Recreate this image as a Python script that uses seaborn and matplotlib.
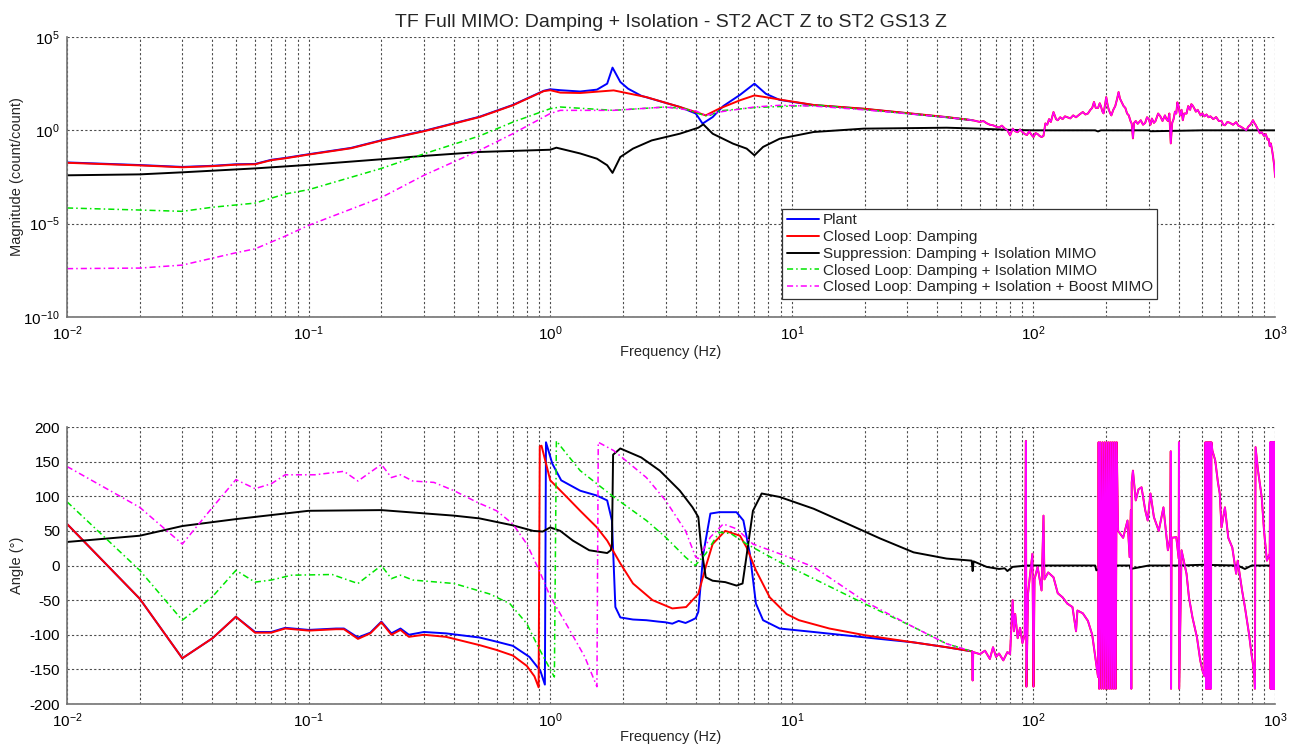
import numpy as np
import matplotlib
matplotlib.use("Agg")
import matplotlib.pyplot as plt
import seaborn as sns
from matplotlib.ticker import LogLocator, FixedLocator, NullFormatter, LogFormatterSciNotation

# ---------------------------------------------------------------- magnitude (log10 of count/count)
plant_mag_f = [0.01, 0.02, 0.03, 0.04, 0.05, 0.06, 0.07, 0.08, 0.1, 0.15, 0.2, 0.3, 0.51, 0.7, 0.94,
               1.0, 1.1, 1.33, 1.56, 1.72, 1.81, 1.95, 2.1, 2.38, 3.44, 4.0, 4.15, 4.27, 4.7, 5.2,
               6.1, 7.0, 7.8, 8.9, 12.3, 19.8, 43.7, 56]
plant_mag = [-1.72, -1.86, -1.96, -1.9, -1.82, -1.8, -1.58, -1.48, -1.28, -0.94, -0.53, -0.03, 0.73,
             1.36, 2.12, 2.2, 2.15, 2.08, 2.18, 2.5, 3.36, 2.59, 2.23, 1.85, 1.25, 0.9, 0.6, 0.36,
             0.71, 1.3, 1.9, 2.5, 1.96, 1.63, 1.35, 1.15, 0.7, 0.54]

damp_mag_f = [0.01, 0.02, 0.03, 0.04, 0.05, 0.06, 0.07, 0.08, 0.1, 0.15, 0.2, 0.3, 0.51, 0.7, 0.94,
              1.0, 1.1, 1.33, 1.83, 2.5, 3.44, 4.0, 4.4, 5.0, 6.1, 7.0, 7.6, 8.9, 12.3, 19.8, 43.7]
damp_mag = [-1.74, -1.88, -1.98, -1.92, -1.84, -1.82, -1.6, -1.5, -1.3, -0.96, -0.55, -0.05, 0.71,
            1.34, 2.1, 2.15, 2.02, 2.0, 2.14, 1.78, 1.25, 0.98, 0.8, 1.16, 1.61, 1.87, 1.8, 1.65,
            1.36, 1.16, 0.71]

supp_mag_f = [0.01, 0.02, 0.03, 0.06, 0.1, 0.2, 0.3, 0.51, 1.0, 1.06, 1.33, 1.56, 1.72, 1.81, 1.95,
              2.2, 2.63, 3.44, 4.1, 4.3, 4.7, 5.7, 6.5, 7.0, 7.6, 8.9, 12.3, 19.8, 43.7, 60, 80,
              100, 180, 185, 190, 300, 305, 500, 700, 1000]
supp_mag = [-2.41, -2.36, -2.25, -2.04, -1.85, -1.55, -1.37, -1.16, -1.04, -0.93, -1.24, -1.52,
            -1.87, -2.28, -1.43, -0.98, -0.54, -0.18, 0.14, 0.32, -0.18, -0.71, -0.98, -1.34, -0.89,
            -0.45, -0.09, 0.09, 0.14, 0.09, 0.02, 0.0, 0.0, -0.06, 0.0, 0.0, -0.05, 0.0, 0.0, 0.0]

iso_mag_f = [0.01, 0.02, 0.03, 0.04, 0.06, 0.08, 0.1, 0.2, 0.3, 0.51, 0.7, 1.0, 1.1, 1.83, 3.0, 3.6,
             4.1, 4.5, 5.0, 7.0, 10, 13, 19.8, 43.7, 56]
iso_mag = [-4.16, -4.27, -4.34, -4.12, -3.9, -3.41, -3.18, -2.04, -1.26, -0.3, 0.44, 1.16, 1.25,
           1.07, 1.25, 1.16, 0.9, 0.75, 1.04, 1.22, 1.3, 1.34, 1.12, 0.7, 0.54]

boost_mag_f = [0.01, 0.02, 0.03, 0.05, 0.06, 0.08, 0.1, 0.2, 0.3, 0.51, 0.7, 1.0, 1.1, 1.83, 3.0,
               4.0, 4.4, 5.0, 7.0, 8.9, 12.3, 19.8, 43.7, 56]
boost_mag = [-7.41, -7.38, -7.22, -6.56, -6.35, -5.67, -5.09, -3.6, -2.41, -1.07, -0.18, 0.9, 1.07,
             1.07, 1.25, 1.04, 0.8, 0.98, 1.25, 1.34, 1.3, 1.1, 0.7, 0.54]

# measured (noisy) band shared by the closed-loop curves above ~56 Hz
hf_mag_f = [56, 60, 62, 64, 66, 68, 70, 72, 74, 76,
            78, 80, 82, 84, 86, 88, 90, 92, 94, 96,
            97, 99, 100, 102, 104, 106, 108, 110, 112, 114,
            116, 118, 121, 124, 126, 129, 132, 135, 138, 142,
            146, 150, 155, 160, 164, 168, 172, 175, 178, 181,
            185, 188, 190, 193, 195, 198, 200, 203, 205, 208,
            210, 214, 218, 222, 225, 228, 232, 236, 240, 244,
            248, 252, 255, 258, 261, 265, 270, 278, 284, 290,
            295, 300, 305, 309, 315, 320, 328, 335, 342, 350,
            355, 360, 365, 370, 375, 380, 385, 390, 394, 398,
            402, 405, 410, 415, 420, 430, 437, 445, 450, 455,
            462, 470, 478, 485, 492, 500, 510, 520, 530, 540,
            555, 570, 585, 600, 610, 620, 635, 650, 670, 690,
            705, 720, 740, 760, 775, 790, 810, 820, 830, 845,
            865, 880, 900, 915, 930, 940, 950, 960, 970, 978,
            985, 992, 1000]
hf_mag = [0.54, 0.45, 0.5, 0.38, 0.3, 0.27, 0.2, 0.15, 0.25, 0.1,
          0.0, -0.27, 0.09, -0.05, -0.1, 0.05, -0.09, -0.2, -0.25, -0.05,
          -0.15, -0.3, -0.36, -0.15, -0.2, -0.3, -0.36, -0.3, 0.37, 0.3,
          0.6, 0.45, 0.98, 0.6, 0.54, 0.7, 0.6, 0.75, 0.7, 0.64,
          0.8, 0.7, 0.85, 0.98, 0.85, 0.9, 1.1, 1.2, 1.52, 1.2,
          1.2, 1.45, 1.3, 1.0, 0.91, 1.4, 1.78, 1.3, 1.1, 0.9,
          0.8, 1.1, 1.3, 1.7, 2.05, 1.7, 1.5, 1.3, 1.2, 0.9,
          0.8, 0.5, 0.36, -0.43, 0.4, 0.5, 0.35, 0.54, 0.3, 0.4,
          0.7, 0.6, 0.3, 0.63, 0.4, 0.5, 0.9, 0.75, 0.5, 0.8,
          0.6, 0.5, 0.9, -0.7, 0.4, 0.6, 1.0, 0.9, 1.5, 1.34,
          1.0, 0.8, 1.1, 0.54, 0.9, 0.9, 1.3, 1.1, 1.4, 1.34,
          1.2, 1.0, 1.1, 0.95, 0.8, 0.91, 0.75, 0.85, 0.7, 0.75,
          0.6, 0.71, 0.5, 0.5, 0.3, 0.27, 0.45, 0.4, 0.3, 0.44,
          0.25, 0.2, 0.1, 0.0, 0.2, 0.3, 0.54, 0.4, 0.3, 0.1,
          -0.16, -0.1, -0.3, -0.2, -0.5, -0.45, -0.85, -0.7, -1.0, -1.3,
          -1.6, -1.9, -2.5]

# ---------------------------------------------------------------- phase (degrees)
plant_ph_f = [0.01, 0.02, 0.03, 0.04, 0.05, 0.06, 0.07, 0.08, 0.1, 0.13, 0.14, 0.16, 0.18, 0.2,
              0.22, 0.24, 0.26, 0.3, 0.37, 0.51, 0.6, 0.7, 0.82, 0.91, 0.95, 0.96, 1.02, 1.11,
              1.33, 1.56, 1.72, 1.8, 1.86, 1.95, 2.2, 2.5, 2.8, 3.0, 3.2, 3.4, 3.63, 3.85, 4.0,
              4.1, 4.3, 4.6, 5.0, 5.9, 6.3, 6.7, 7.1, 7.6, 8.9, 12.3, 20.3, 31.9, 43.7, 55.7]
plant_ph = [60, -48, -134, -105, -74, -96, -96, -90, -93, -91, -91, -104, -97, -81, -98, -91, -100,
            -96, -98, -104, -110, -116, -132, -152, -172, 178, 147, 123, 108, 101, 94, 65, -60,
            -75, -78, -79, -81, -82, -84, -80, -83, -79, -76, -67, 17, 75, 77, 77, 65, 17, -55,
            -79, -91, -96, -104, -111, -118, -124]

damp_ph_f = [0.01, 0.02, 0.03, 0.04, 0.05, 0.06, 0.07, 0.08, 0.1, 0.13, 0.14, 0.16, 0.18, 0.2,
             0.22, 0.24, 0.26, 0.3, 0.37, 0.51, 0.6, 0.7, 0.8, 0.86, 0.895, 0.905, 0.92, 1.0,
             1.17, 1.33, 1.56, 1.72, 1.95, 2.2, 2.65, 3.2, 3.65, 4.1, 4.4, 4.7, 5.3, 6.1, 6.5,
             7.1, 8.1, 9.5, 10.7, 14.3, 20.3, 31.9, 43.7]
damp_ph = [60, -48, -134, -105, -74, -97, -97, -91, -94, -92, -92, -106, -98, -82, -100, -93, -103,
           -100, -103, -115, -122, -130, -145, -160, -176, 172, 173, 123, 99, 79, 55, 36, 3, -26,
           -50, -62, -60, -41, -2, 31, 50, 43, 26, -7, -46, -70, -79, -91, -101, -111, -118]

supp_ph_f = [0.01, 0.02, 0.03, 0.05, 0.1, 0.2, 0.4, 0.51, 0.7, 0.85, 0.93, 1.0, 1.1, 1.24, 1.45,
             1.72, 1.78, 1.8, 1.82, 1.95, 2.38, 2.84, 3.44, 3.88, 4.1, 4.2, 4.4, 4.7, 5.3, 5.9,
             6.25, 6.45, 6.9, 7.5, 8.9, 12.3, 16.8, 23.2, 31.9, 43.7, 55.5, 56, 56.5, 64, 72, 76,
             78, 82, 94, 120, 150, 180, 182, 200, 250, 252, 300, 400, 500, 700, 750, 800, 1000]
supp_ph = [34, 43, 57, 67, 79, 80, 72, 68, 58, 50, 49, 55, 50, 36, 22, 18, 22, 30, 160, 169, 156,
           137, 108, 84, 70, 31, -17, -22, -24, -29, -26, 7, 79, 104, 99, 82, 61, 39, 19, 10, 7,
           -8, 6, -2, -5, -4, -8, -2, 0, 0, 0, 0, -7, 0, 0, -5, 0, 0, 1, 0, -5, 0, 0]

iso_ph_f = [0.01, 0.02, 0.03, 0.04, 0.05, 0.06, 0.07, 0.085, 0.125, 0.16, 0.2, 0.22, 0.24, 0.27,
            0.4, 0.56, 0.68, 0.8, 0.89, 1.0, 1.04, 1.06, 1.17, 1.33, 1.83, 2.5, 3.0, 3.63, 3.98,
            4.4, 5.0, 5.6, 6.5, 8.9, 12.3, 19.4, 31.9, 43.7, 55.7]
iso_ph = [92, -7, -79, -45, -7, -24, -21, -14, -13, -26, 0, -19, -14, -21, -26, -41, -55, -84,
          -117, -150, -161, 180, 161, 137, 99, 65, 41, 12, 0, 17, 48, 46, 31, 5, -19, -53, -89,
          -113, -124]

boost_ph_f = [0.01, 0.02, 0.03, 0.04, 0.05, 0.06, 0.07, 0.08, 0.106, 0.14, 0.16, 0.2, 0.22, 0.24,
              0.27, 0.33, 0.4, 0.5, 0.6, 0.7, 0.8, 0.9, 1.0, 1.18, 1.39, 1.56, 1.58, 1.83, 2.5,
              3.0, 3.63, 4.0, 4.1, 4.6, 5.2, 5.9, 6.9, 8.9, 12.3, 20.3, 31.9, 43.7, 55.7]
boost_ph = [143, 84, 31, 84, 124, 111, 118, 131, 131, 136, 122, 146, 127, 131, 122, 120, 108, 91,
            79, 60, 31, -7, -45, -88, -132, -175, 178, 166, 127, 94, 50, 12, 10, 41, 60, 53, 31,
            17, -2, -53, -89, -113, -124]

hf_ph_f = [55.7, 56.0, 56.3, 60, 63, 66, 68, 70, 72, 75, 78, 80, 82, 83, 84, 86, 88, 90, 92, 93,
           93.5, 95, 97, 99, 100, 101, 104, 108, 110, 111, 115, 121, 126, 132, 138, 145, 150, 152,
           160, 168, 175, 181, 185,
           186, 187, 189, 191, 193, 195, 197, 199, 201, 203, 205, 207, 209, 211, 213, 215, 217,
           219, 221,
           224, 235, 245, 250, 253, 254, 255, 258, 265, 272, 280, 290, 297, 305, 315, 330, 345,
           360, 368, 370, 371, 373, 390, 399, 400, 401, 410, 430, 440, 455, 475, 490, 500, 510,
           515, 518, 521, 524, 527, 530, 533, 536, 539, 542, 545,
           550, 565, 580, 590, 600, 620, 640, 665, 690, 700, 730, 750, 780, 800, 810, 820, 825,
           830, 850, 880, 900, 925, 950,
           955, 958, 961, 964, 967, 970, 973, 976, 979, 982, 985, 988, 991, 994, 997, 1000]
hf_ph = [-124, -166, -125, -128, -123, -135, -118, -132, -127, -137, -125, -128, -50, -95, -70,
         -105, -90, -112, -100, 180, -175, -40, -10, 17, -175, -20, -2, -36, 72, -20, -10, -17,
         -40, -46, -55, -60, -95, -65, -69, -80, -100, -137, -161,
         178, -178, 178, -178, 178, -178, 178, -178, 178, -178, 178, -178, 178, -178, 178, -178,
         178, -178, 178,
         50, 40, 65, 12, 80, -178, 120, 137, 94, 110, 113, 80, 65, 104, 70, 50, 84, 22, 40, 165,
         -178, 40, 41, 10, 178, -178, 22, -12, -46, -75, -104, -137, -151, -160,
         178, -178, 178, -178, 178, -178, 178, -178, 178, -178, 178,
         166, 152, 120, 104, 55, 84, 40, 26, -12, 7, -36, -60, -99, -130, -142, -160, -178, 171,
         137, 99, 50, 7, 17,
         178, -178, 178, -178, 178, -178, 178, -178, 178, -178, 178, -178, 178, -178, 178, -178]

labels = ["Plant", "Closed Loop: Damping", "Suppression: Damping + Isolation MIMO",
          "Closed Loop: Damping + Isolation MIMO",
          "Closed Loop: Damping + Isolation + Boost MIMO"]
colors = ["#0000ff", "#ff0000", "#000000", "#00e600", "#ff00ff"]
dashdot = (0, (4, 2, 1, 2))
styles = ["-", "-", "-", dashdot, dashdot]
widths = [1.4, 1.4, 1.4, 1.1, 1.1]

sns.set_theme(style="white")
plt.rcParams["font.family"] = ["Liberation Sans", "DejaVu Sans"]
plt.rcParams["mathtext.default"] = "regular"
plt.rcParams["axes.unicode_minus"] = False

fig = plt.figure(figsize=(12.99, 7.46), dpi=100)
ax_mag = fig.add_axes([0.0516, 0.5751, 0.9300, 0.3753])
ax_ph = fig.add_axes([0.0516, 0.0563, 0.9300, 0.3713])

for ax in (ax_mag, ax_ph):
    ax.set_xscale("log")
ax_mag.set_yscale("log")


def trace(ax, f, v, i, style=None, width=None):
    sns.lineplot(x=np.asarray(f, float), y=np.asarray(v, float), ax=ax, color=colors[i],
                 linewidth=widths[i] if width is None else width,
                 linestyle=styles[i] if style is None else style,
                 sort=False, estimator=None, legend=False)
    return ax.lines[-1]


def mag(values):
    return np.power(10.0, values)


# magnitude panel
handles = [
    trace(ax_mag, plant_mag_f, mag(plant_mag), 0),
    trace(ax_mag, damp_mag_f + hf_mag_f, mag(damp_mag + hf_mag), 1),
    trace(ax_mag, supp_mag_f, mag(supp_mag), 2),
    trace(ax_mag, iso_mag_f, mag(iso_mag), 3),
    trace(ax_mag, boost_mag_f, mag(boost_mag), 4),
]
# dense measured segment of the boost loop reads as a continuous trace
trace(ax_mag, hf_mag_f, mag(hf_mag), 4, style="-", width=1.1)

# phase panel
trace(ax_ph, plant_ph_f, plant_ph, 0)
trace(ax_ph, damp_ph_f + hf_ph_f, damp_ph + hf_ph, 1)
trace(ax_ph, supp_ph_f, supp_ph, 2)
trace(ax_ph, iso_ph_f, iso_ph, 3)
trace(ax_ph, boost_ph_f, boost_ph, 4)
trace(ax_ph, hf_ph_f, hf_ph, 4, style="-", width=1.2)

grid_kw = dict(color="0.3", linestyle=(0, (2, 2)), linewidth=0.8)
for ax in (ax_mag, ax_ph):
    ax.set_xlim(1e-2, 1e3)
    ax.xaxis.set_major_locator(LogLocator(base=10, numticks=10))
    ax.xaxis.set_minor_locator(LogLocator(base=10, subs=np.arange(2, 10), numticks=20))
    ax.xaxis.set_minor_formatter(NullFormatter())
    ax.xaxis.set_major_formatter(LogFormatterSciNotation())
    ax.set_axisbelow(True)
    ax.grid(True, which="both", axis="x", **grid_kw)
    ax.grid(True, which="major", axis="y", **grid_kw)
    for side in ("top", "right"):
        ax.spines[side].set_visible(False)
    for side in ("left", "bottom"):
        ax.spines[side].set_color("0.45")
        ax.spines[side].set_linewidth(1.2)
    ax.tick_params(axis="both", which="both", direction="in", color="0.45",
                   labelsize=11, labelcolor="black", pad=5)
    ax.tick_params(which="major", length=4)
    ax.tick_params(which="minor", length=2)
    ax.set_xlabel("Frequency (Hz)", fontsize=10.5)

ax_mag.set_ylim(1e-10, 1e5)
ax_mag.yaxis.set_major_locator(FixedLocator([1e-10, 1e-5, 1e0, 1e5]))
ax_mag.yaxis.set_minor_locator(FixedLocator([]))
ax_mag.yaxis.set_major_formatter(LogFormatterSciNotation())
ax_mag.set_ylabel("Magnitude (count/count)", fontsize=10.5)

ax_ph.set_ylim(-200, 200)
ax_ph.set_yticks(np.arange(-200, 201, 50))
ax_ph.set_ylabel("Angle (°)", fontsize=10.5)

ax_mag.xaxis.set_label_coords(0.5, -0.10)
ax_ph.xaxis.set_label_coords(0.5, -0.095)
ax_mag.yaxis.set_label_coords(-0.036, 0.5)
ax_ph.yaxis.set_label_coords(-0.036, 0.5)

ax_mag.set_title("TF Full MIMO: Damping + Isolation - ST2 ACT Z to ST2 GS13 Z",
                 fontsize=14, pad=7)

leg = ax_mag.legend(handles, labels, loc="lower left", bbox_to_anchor=(0.592, 0.064),
                    borderaxespad=0, fontsize=11, frameon=True, fancybox=False,
                    framealpha=1, edgecolor="0.2", handlelength=2.1, handletextpad=0.25,
                    labelspacing=0.18, borderpad=0.3)
leg.get_frame().set_linewidth(0.9)

fig.savefig("out.png", dpi=100)
